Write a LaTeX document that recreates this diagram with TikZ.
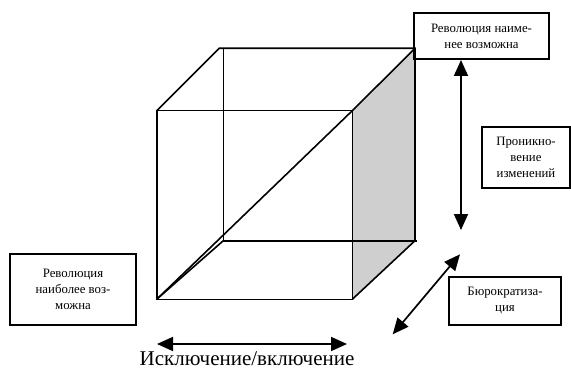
\documentclass[tikz,border=0pt]{standalone}
\usepackage{fontspec}
\setmainfont{Liberation Serif}
\usetikzlibrary{arrows.meta,calc}
\begin{document}
\begin{tikzpicture}[x=1pt,y=-1pt,
  cubeline/.style={line width=1.6pt,line join=miter},
  labelbox/.style={draw,line width=2pt,align=center,inner sep=0pt,
    font=\fontsize{12.8}{16}\selectfont},
  dblarrow/.style={line width=1.7pt,{Triangle[length=16pt,width=14pt]}-{Triangle[length=16pt,width=14pt]}},
  bigtext/.style={font=\fontsize{21}{24}\selectfont,anchor=base}]
\useasboundingbox (0,0) rectangle (571,369);
% cube corners
\coordinate (ftl) at (156.7,110.7);
\coordinate (ftr) at (352.3,110.7);
\coordinate (fbl) at (156.7,299.3);
\coordinate (fbr) at (352.3,299.3);
\coordinate (btl) at (219.3,48.3);
\coordinate (btlv) at (223.3,48.3);
\coordinate (btr) at (415,48.3);
\coordinate (bbl) at (223.3,240.7);
\coordinate (bbr) at (415,240.7);
\coordinate (bbre) at (416.5,240.7);
% shaded right face
\fill[gray!38] (ftr) -- (btr) -- (bbr) -- (fbr) -- cycle;
% edges
\draw[cubeline] (ftl) rectangle (fbr);
\draw[cubeline] (ftl) -- (btl) -- (btr) -- (bbr);
\draw[cubeline] (btlv) -- (bbl) -- (bbre);
\draw[cubeline] (fbl) -- (bbl);
\draw[cubeline] (fbr) -- (bbr);
\draw[cubeline] (ftr) -- (btr);
\draw[cubeline] (fbl) -- (ftr);
% boxes
\node[labelbox,minimum width=135pt,minimum height=46pt] (top) at (481.5,36)
  {Революция наиме-\\нее возможна};
\node[labelbox,minimum width=88pt,minimum height=61.5pt] (pen) at (526,157.5)
  {Проникно-\\вение\\изменений};
\node[labelbox,minimum width=112pt,minimum height=48pt] (bur) at (505,300.8)
  {Бюрократиза-\\ция};
\node[labelbox,minimum width=126pt,minimum height=71pt] (rev) at (73,289)
  {Революция\\наиболее воз-\\можна};
% arrows
\coordinate (vend) at (461,230);
\draw[dblarrow] (vend |- top.south) -- (vend);
\coordinate (d1) at (392.7,334.3);
\coordinate (d2) at (460,254.3);
\draw[dblarrow] (d1) -- (d2);
\coordinate (h1) at (157,344);
\coordinate (h2) at (347,344);
\draw[dblarrow] (h1) -- (h2);
\node[bigtext] (lab) at (247,365) {Исключение/включение};
\end{tikzpicture}
\end{document}
